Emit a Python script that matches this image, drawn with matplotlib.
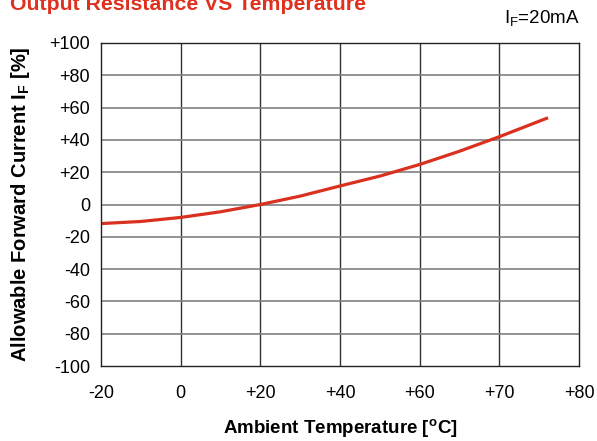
import matplotlib
matplotlib.use("Agg")
import matplotlib.pyplot as plt

plt.rcParams["font.family"] = ["Liberation Sans", "DejaVu Sans"]
plt.rcParams["mathtext.fontset"] = "custom"
plt.rcParams["mathtext.rm"] = "Liberation Sans"
plt.rcParams["mathtext.bf"] = "Liberation Sans:bold"

# x axis is drawn with evenly spaced ticks (note the +60 -> +70 step)
temp_labels = ["-20", "0", "+20", "+40", "+60", "+70", "+80"]
y_ticks = [-100, -80, -60, -40, -20, 0, 20, 40, 60, 80, 100]
y_labels = ["-100", "-80", "-60", "-40", "-20", "0", "+20", "+40", "+60", "+80", "+100"]

# curve, x in tick-position units
curve_pos = [0, 0.5, 1, 1.5, 2, 2.5, 3, 3.5, 4, 4.5, 5, 5.61]
curve_val = [-11.8, -10.5, -8.0, -4.5, 0.0, 5.2, 11.5, 17.6, 24.8, 33.0, 42.0, 53.7]

fig = plt.figure(figsize=(5.97, 4.41), dpi=100)
ax = fig.add_axes([0.1692, 0.170, 0.8008, 0.7325])

ax.plot(curve_pos, curve_val, color="#d9301f", lw=2.3, solid_capstyle="butt")

ax.set_xlim(0, len(temp_labels) - 1)
ax.set_ylim(-100, 100)
ax.set_xticks(range(len(temp_labels)))
ax.set_xticklabels(temp_labels)
ax.set_yticks(y_ticks)
ax.set_yticklabels(y_labels)
ax.tick_params(axis="both", length=0, labelsize=13)
ax.tick_params(axis="x", pad=14)
ax.tick_params(axis="y", pad=8)

for i in range(1, len(temp_labels) - 1):
    ax.axvline(i, color="#333333", lw=1.0, zorder=0)
for v in y_ticks[1:-1]:
    ax.axhline(v, color="#808080", lw=1.2, zorder=0)
for s in ax.spines.values():
    s.set_linewidth(1.0)
    s.set_color("#222222")

ax.set_xlabel(r"Ambient Temperature [$^\mathbf{o}$C]", fontsize=13.5,
              fontweight="bold", labelpad=11)
ax.set_ylabel(r"Allowable Forward Current I$_\mathbf{F}$ [%]", fontsize=14.5,
              fontweight="bold", labelpad=12)

fig.text(0.017, 0.978, "Output Resistance VS Temperature", color="#e0301e",
         fontsize=15.3, fontweight="bold", va="baseline", ha="left")
fig.text(0.972, 0.947, r"I$_\mathrm{F}$=20mA", fontsize=13.5, ha="right",
         va="baseline")

fig.savefig("out.png", dpi=100)
